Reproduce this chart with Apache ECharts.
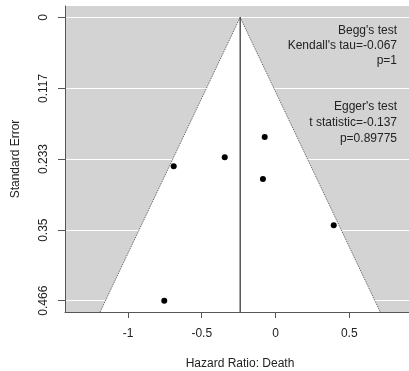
<!DOCTYPE html>
<html>
<head>
<meta charset="utf-8">
<script src="https://cdn.jsdelivr.net/npm/echarts@6/dist/echarts.min.js"></script>
<style>html,body{margin:0;padding:0;background:#fff;}#c{width:409px;height:371px;}</style>
</head>
<body>
<div id="c"></div>
<script>
// Study estimates (log hazard ratio) and standard errors
const effects = [-0.690, -0.344, -0.073, -0.085, 0.395, -0.754];
const stdErrors = [0.245, 0.230, 0.197, 0.266, 0.342, 0.466];
// pooled estimate (funnel centre) and funnel depth
const pooled = [-0.2395];
const funnelSE = [0.4846];
const yTicks = [0, 0.117, 0.233, 0.35, 0.466];
const yTickLabels = ['0', '0.117', '0.233', '0.35', '0.466'];
const xTicks = [-1, -0.5, 0, 0.5];
const xTickLabels = ['-1', '-0.5', '0', '0.5'];
const notes = ["Begg's test", "Kendall's tau=-0.067", "p=1", "Egger's test", "t statistic=-0.137", "p=0.89775"];

const chart = echarts.init(document.getElementById('c'));
const font = 'Liberation Sans, Arial, sans-serif';
const c = pooled[0], sMax = funnelSE[0];
const funnelData = [[c, 0], [c - 1.96 * sMax, sMax], [c + 1.96 * sMax, sMax], [c, sMax]];

const noteY = [32, 47, 62, 108, 123.5, 139.5];
chart.setOption({
  animation: false,
  grid: {left: 65, top: 6, width: 350, height: 306, show: true, backgroundColor: '#D3D3D3', borderWidth: 0,
    containLabel: false, outerBoundsMode: 'none'},
  xAxis: {
    type: 'value', min: -1.427, max: 0.946,
    name: 'Hazard Ratio: Death', nameLocation: 'middle', nameGap: 46,
    nameTextStyle: {color: '#222', fontSize: 12, fontFamily: font},
    axisLine: {show: true, onZero: false, lineStyle: {color: '#555', width: 1}},
    axisTick: {show: true, length: 6, lineStyle: {color: '#555'}, customValues: xTicks},
    axisLabel: {color: '#222', fontSize: 12, fontFamily: font, margin: 16, customValues: xTicks,
      formatter: v => xTickLabels[xTicks.indexOf(v)] ?? ''},
    splitLine: {show: false}
  },
  yAxis: {
    type: 'value', inverse: true, min: -0.0186, max: 0.4846,
    name: 'Standard Error', nameLocation: 'middle', nameGap: 43,
    nameTextStyle: {color: '#222', fontSize: 12, fontFamily: font},
    axisLine: {show: true, onZero: false, lineStyle: {color: '#555', width: 1}},
    axisTick: {show: true, length: 7, lineStyle: {color: '#555'}, customValues: yTicks},
    axisLabel: {color: '#222', fontSize: 12, fontFamily: font, rotate: 90, margin: 15, customValues: yTicks,
      formatter: v => yTickLabels[yTicks.indexOf(v)] ?? ''},
    splitLine: {show: true, lineStyle: {color: '#fff', width: 1}}
  },
  graphic: notes.map((t, i) => ({
    type: 'text', right: 12, top: noteY[i] - 7, z: 100,
    style: {text: t, fill: '#222', font: '12px ' + font, textAlign: 'right'}
  })),
  series: [
    {
      type: 'custom', z: 1, silent: true,
      data: [0],
      renderItem: (params, api) => {
        const p = funnelData.map(d => api.coord(d));
        return {type: 'group', children: [
          {type: 'polygon', shape: {points: [p[0], p[1], p[2]]}, style: {fill: '#fff', stroke: null}},
          {type: 'polyline', shape: {points: [p[1], p[0], p[2]]}, style: {stroke: '#555', lineWidth: 1, lineDash: [1, 1], fill: null}},
          {type: 'line', shape: {x1: p[0][0], y1: p[0][1], x2: p[3][0], y2: p[3][1]}, style: {stroke: '#000', lineWidth: 1}}
        ]};
      }
    },
    {
      type: 'scatter', z: 5, symbol: 'circle', symbolSize: 6,
      itemStyle: {color: '#000', opacity: 1},
      data: effects.map((e, i) => [e, stdErrors[i]])
    }
  ]
});
</script>
</body>
</html>
